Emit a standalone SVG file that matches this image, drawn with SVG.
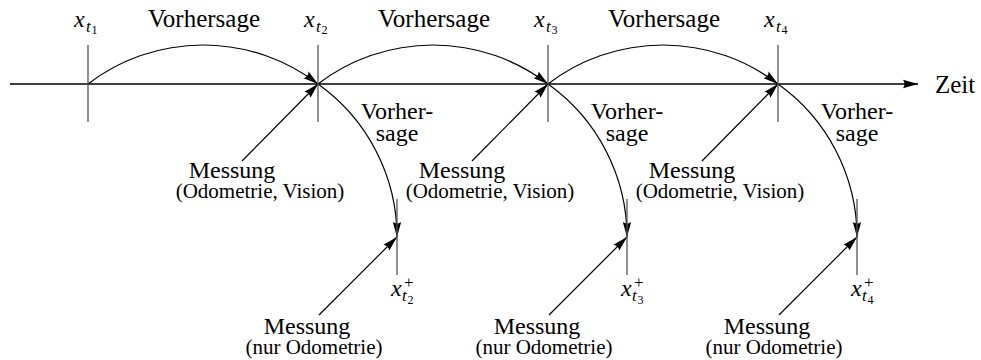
<svg xmlns="http://www.w3.org/2000/svg" width="981" height="360" viewBox="0 0 981 360">
<style>
text{font-family:'Liberation Serif',serif;font-size:25px;fill:#000}
.s{font-size:21px}
.p{font-size:24px}
.m{font-style:italic;font-size:24px}
.sub{font-size:17px}
.sub2{font-size:12px}
.c{text-anchor:middle}
.tick{stroke:#555;stroke-width:1.3;fill:none}
.conn{fill:none;stroke:#000;stroke-width:1.2}
.axis{fill:none;stroke:#000;stroke-width:1.4}
</style>
<defs>
<marker id="ah" markerUnits="userSpaceOnUse" markerWidth="16" markerHeight="10" refX="15" refY="5" orient="auto" overflow="visible">
<path d="M0,0.8 L15,5 L0,9.2 Q3,5 0,0.8z" fill="#000"/>
</marker>
</defs>
<rect width="981" height="360" fill="#fff"/>

<g id="connectors">
<line class="axis" x1="10" y1="84" x2="918" y2="84" marker-end="url(#ah)"/>
<path class="conn" d="M88,84 A189,189 0 0 1 318,84" marker-end="url(#ah)"/>
<path class="conn" d="M318,84 A189,189 0 0 1 548,84" marker-end="url(#ah)"/>
<path class="conn" d="M548,84 A189,189 0 0 1 778,84" marker-end="url(#ah)"/>
<path class="conn" d="M318,84 A188,188 0 0 1 397,237" marker-end="url(#ah)"/>
<path class="conn" d="M548,84 A188,188 0 0 1 627,237" marker-end="url(#ah)"/>
<path class="conn" d="M778,84 A188,188 0 0 1 857,237" marker-end="url(#ah)"/>
<line class="conn" x1="242" y1="161" x2="318" y2="84" marker-end="url(#ah)"/>
<line class="conn" x1="472" y1="161" x2="548" y2="84" marker-end="url(#ah)"/>
<line class="conn" x1="702" y1="161" x2="778" y2="84" marker-end="url(#ah)"/>
<line class="conn" x1="319" y1="315" x2="397" y2="237" marker-end="url(#ah)"/>
<line class="conn" x1="549" y1="315" x2="627" y2="237" marker-end="url(#ah)"/>
<line class="conn" x1="779" y1="315" x2="857" y2="237" marker-end="url(#ah)"/>
</g>

<g id="xt1">
<line class="tick" x1="88" y1="45" x2="88" y2="122"/>
<text><tspan class="m" x="74" y="27">x</tspan><tspan class="m sub" x="86" y="32">t</tspan><tspan class="sub2" x="91.5" y="34">1</tspan></text>
</g>
<g id="xt2">
<line class="tick" x1="318" y1="45" x2="318" y2="122"/>
<text><tspan class="m" x="304" y="27">x</tspan><tspan class="m sub" x="316" y="32">t</tspan><tspan class="sub2" x="321.5" y="34">2</tspan></text>
</g>
<g id="xt3">
<line class="tick" x1="548" y1="45" x2="548" y2="122"/>
<text><tspan class="m" x="534" y="27">x</tspan><tspan class="m sub" x="546" y="32">t</tspan><tspan class="sub2" x="551.5" y="34">3</tspan></text>
</g>
<g id="xt4">
<line class="tick" x1="778" y1="45" x2="778" y2="122"/>
<text><tspan class="m" x="764" y="27">x</tspan><tspan class="m sub" x="776" y="32">t</tspan><tspan class="sub2" x="781.5" y="34">4</tspan></text>
</g>

<g id="pred-top">
<text class="c" x="204" y="27">Vorhersage</text>
<text class="c" x="434" y="27">Vorhersage</text>
<text class="c" x="664" y="27">Vorhersage</text>
</g>

<g id="zeit"><text x="935" y="93">Zeit</text></g>

<g id="xt2p">
<line class="tick" x1="397" y1="199" x2="397" y2="275"/>
<text><tspan class="m" x="391" y="296">x</tspan><tspan class="sub" x="404" y="288">+</tspan><tspan class="m sub" x="402" y="301">t</tspan><tspan class="sub2" x="407.5" y="304">2</tspan></text>
</g>
<g id="xt3p">
<line class="tick" x1="627" y1="199" x2="627" y2="275"/>
<text><tspan class="m" x="621" y="296">x</tspan><tspan class="sub" x="634" y="288">+</tspan><tspan class="m sub" x="632" y="301">t</tspan><tspan class="sub2" x="637.5" y="304">3</tspan></text>
</g>
<g id="xt4p">
<line class="tick" x1="857" y1="199" x2="857" y2="275"/>
<text><tspan class="m" x="851" y="296">x</tspan><tspan class="sub" x="864" y="288">+</tspan><tspan class="m sub" x="862" y="301">t</tspan><tspan class="sub2" x="867.5" y="304">4</tspan></text>
</g>

<g id="pred-side">
<text class="p c"><tspan x="397" y="119">Vorher-</tspan><tspan x="397" y="141">sage</tspan></text>
<text class="p c"><tspan x="627" y="119">Vorher-</tspan><tspan x="627" y="141">sage</tspan></text>
<text class="p c"><tspan x="857" y="119">Vorher-</tspan><tspan x="857" y="141">sage</tspan></text>
</g>

<g id="mess1">
<text class="p c" x="232" y="178">Messung</text>
<text class="s c" x="260" y="198">(Odometrie, Vision)</text>
</g>
<g id="mess2">
<text class="p c" x="462" y="178">Messung</text>
<text class="s c" x="490" y="198">(Odometrie, Vision)</text>
</g>
<g id="mess3">
<text class="p c" x="692" y="178">Messung</text>
<text class="s c" x="720" y="198">(Odometrie, Vision)</text>
</g>
<g id="mess1b">
<text class="p c" x="307" y="334">Messung</text>
<text class="s c" x="314" y="354">(nur Odometrie)</text>
</g>
<g id="mess2b">
<text class="p c" x="537" y="334">Messung</text>
<text class="s c" x="544" y="354">(nur Odometrie)</text>
</g>
<g id="mess3b">
<text class="p c" x="767" y="334">Messung</text>
<text class="s c" x="774" y="354">(nur Odometrie)</text>
</g>
</svg>
